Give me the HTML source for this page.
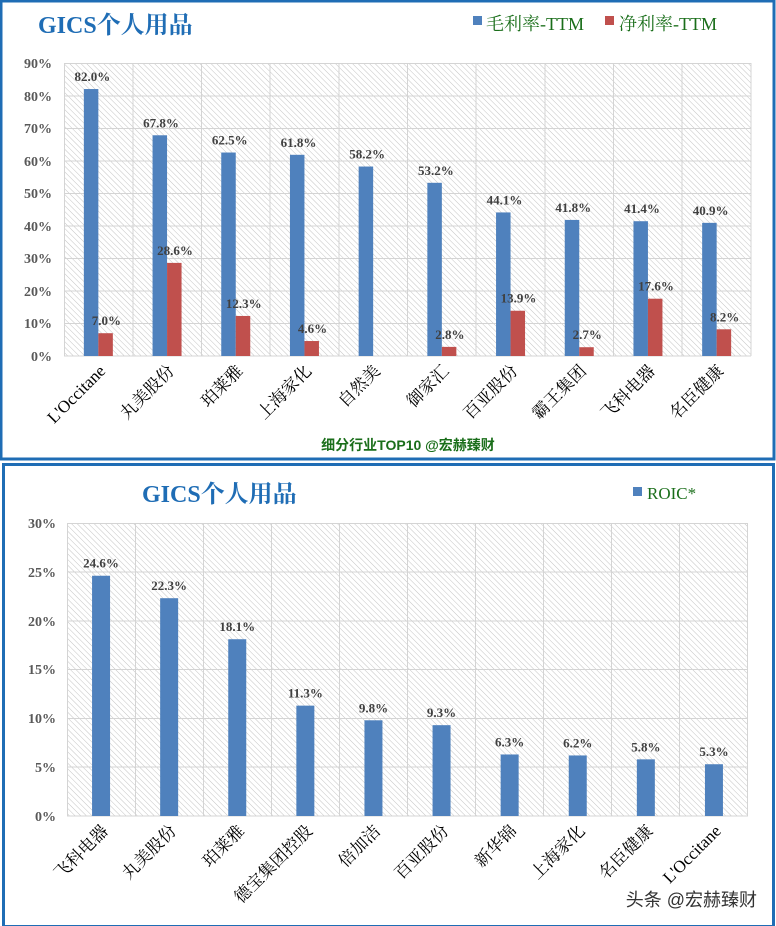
<!DOCTYPE html>
<html><head><meta charset="utf-8"><style>
body{margin:0;background:#fff;width:776px;height:926px;overflow:hidden}
svg{display:block}
text{font-family:"Liberation Serif","Noto Serif CJK SC",serif}
</style></head><body>
<svg width="776" height="926" viewBox="0 0 776 926" xmlns="http://www.w3.org/2000/svg">
<defs>
<pattern id="h" width="4" height="4" patternUnits="userSpaceOnUse" patternTransform="rotate(-45)">
<rect width="4" height="4" fill="#fff"/><line x1="0" y1="0" x2="0" y2="4" stroke="#c4c4c4" stroke-width="1"/>
</pattern>
</defs>
<rect x="1" y="1" width="773" height="458" fill="#fff" stroke="#1f6db5" stroke-width="3"/>
<text x="38" y="33" font-size="24" font-weight="bold" fill="#1f6db5">GICS个人用品</text>
<rect x="473" y="16" width="9" height="9" fill="#4f81bd"/>
<text x="486" y="30" font-size="18" fill="#1a6e1a">毛利率-TTM</text>
<rect x="605" y="16" width="9" height="9" fill="#c0504d"/>
<text x="619" y="30" font-size="18" fill="#1a6e1a">净利率-TTM</text>
<rect x="64" y="63" width="687" height="293" fill="url(#h)"/>
<g stroke="#d4d4d4" stroke-width="1">
<line x1="64" y1="63.5" x2="751" y2="63.5"/><line x1="64" y1="96" x2="751" y2="96"/><line x1="64" y1="128.5" x2="751" y2="128.5"/><line x1="64" y1="161" x2="751" y2="161"/><line x1="64" y1="193.5" x2="751" y2="193.5"/><line x1="64" y1="226" x2="751" y2="226"/><line x1="64" y1="258.5" x2="751" y2="258.5"/><line x1="64" y1="291" x2="751" y2="291"/><line x1="64" y1="323.5" x2="751" y2="323.5"/><line x1="64" y1="356" x2="751" y2="356"/>
<line x1="64.5" y1="63" x2="64.5" y2="356"/><line x1="133" y1="63" x2="133" y2="356"/><line x1="201.5" y1="63" x2="201.5" y2="356"/><line x1="270" y1="63" x2="270" y2="356"/><line x1="339" y1="63" x2="339" y2="356"/><line x1="407.5" y1="63" x2="407.5" y2="356"/><line x1="476" y1="63" x2="476" y2="356"/><line x1="545" y1="63" x2="545" y2="356"/><line x1="613.5" y1="63" x2="613.5" y2="356"/><line x1="682" y1="63" x2="682" y2="356"/><line x1="751" y1="63" x2="751" y2="356"/>
</g>
<g font-size="14" font-weight="bold" fill="#595959" text-anchor="end">
<text x="52" y="68">90%</text><text x="52" y="101">80%</text><text x="52" y="133">70%</text><text x="52" y="166">60%</text><text x="52" y="198">50%</text><text x="52" y="231">40%</text><text x="52" y="263">30%</text><text x="52" y="296">20%</text><text x="52" y="328">10%</text><text x="52" y="361">0%</text>
</g>
<g id="topg"></g>
<text x="408" y="450" font-size="14" font-weight="bold" fill="#1a6e1a" text-anchor="middle" style="font-family:'Liberation Sans','Noto Sans CJK SC',sans-serif">细分行业TOP10 @宏赫臻财</text>
<rect x="3.5" y="464.5" width="770" height="462" fill="#fff" stroke="#1f6db5" stroke-width="3"/>
<text x="142" y="502" font-size="24" font-weight="bold" fill="#1f6db5">GICS个人用品</text>
<rect x="633" y="487" width="9" height="9" fill="#4f81bd"/>
<text x="647" y="499" font-size="17" fill="#1a6e1a">ROIC*</text>
<rect x="67" y="523" width="681" height="293" fill="url(#h)"/>
<g stroke="#d4d4d4" stroke-width="1">
<line x1="67" y1="523.5" x2="748" y2="523.5"/><line x1="67" y1="572" x2="748" y2="572"/><line x1="67" y1="621" x2="748" y2="621"/><line x1="67" y1="669.5" x2="748" y2="669.5"/><line x1="67" y1="718.5" x2="748" y2="718.5"/><line x1="67" y1="767" x2="748" y2="767"/><line x1="67" y1="816" x2="748" y2="816"/>
<line x1="67.5" y1="523" x2="67.5" y2="816"/><line x1="135.5" y1="523" x2="135.5" y2="816"/><line x1="203.5" y1="523" x2="203.5" y2="816"/><line x1="271.5" y1="523" x2="271.5" y2="816"/><line x1="339.5" y1="523" x2="339.5" y2="816"/><line x1="407.5" y1="523" x2="407.5" y2="816"/><line x1="475.5" y1="523" x2="475.5" y2="816"/><line x1="543.5" y1="523" x2="543.5" y2="816"/><line x1="611.5" y1="523" x2="611.5" y2="816"/><line x1="679.5" y1="523" x2="679.5" y2="816"/><line x1="747.5" y1="523" x2="747.5" y2="816"/>
</g>
<g font-size="14" font-weight="bold" fill="#595959" text-anchor="end">
<text x="56" y="528">30%</text><text x="56" y="577">25%</text><text x="56" y="626">20%</text><text x="56" y="674">15%</text><text x="56" y="723">10%</text><text x="56" y="772">5%</text><text x="56" y="821">0%</text>
</g>
<g id="botg"></g>
<text x="757" y="906" font-size="18" fill="#333" text-anchor="end" style="font-family:'Liberation Sans','Noto Sans CJK SC',sans-serif">头条 @宏赫臻财</text>
</svg>
<script>
(function(){
var NS="http://www.w3.org/2000/svg";
function el(p,t,a,txt){var e=document.createElementNS(NS,t);for(var k in a)e.setAttribute(k,a[k]);if(txt!=null)e.textContent=txt;p.appendChild(e);return e;}
var tg=document.getElementById("topg");
var names=["L'Occitane","丸美股份","珀莱雅","上海家化","自然美","御家汇","百亚股份","霸王集团","飞科电器","名臣健康"];
var g=[82.0,67.8,62.5,61.8,58.2,53.2,44.1,41.8,41.4,40.9];
var n=[7.0,28.6,12.3,4.6,null,2.8,13.9,2.7,17.6,8.2];
var k=293/90;
for(var i=0;i<10;i++){
 var c=64+68.7*(i+0.5);
 var h=g[i]*k;
 el(tg,"rect",{x:c-14.5,y:356-h,width:14.5,height:h,fill:"#4f81bd"});
 el(tg,"text",{x:c-6,y:356-h-8,"font-size":13,"font-weight":"bold",fill:"#404040","text-anchor":"middle"},g[i].toFixed(1)+"%");
 if(n[i]!=null){var h2=n[i]*k;
 el(tg,"rect",{x:c,y:356-h2,width:14.5,height:h2,fill:"#c0504d"});
 el(tg,"text",{x:c+8,y:356-h2-8,"font-size":13,"font-weight":"bold",fill:"#404040","text-anchor":"middle"},n[i].toFixed(1)+"%");}
 el(tg,"text",{x:c+8,y:372,"font-size":17,fill:"#000","text-anchor":"end",transform:"rotate(-45 "+(c+8)+" 372)"},names[i]);
}
var bg=document.getElementById("botg");
var nb=["飞科电器","丸美股份","珀莱雅","德宝集团控股","倍加洁","百亚股份","新华锦","上海家化","名臣健康","L'Occitane"];
var r=[24.6,22.3,18.1,11.3,9.8,9.3,6.3,6.2,5.8,5.3];
var k2=293/30;
for(var j=0;j<10;j++){
 var c2=67+68.1*(j+0.5);var hh=r[j]*k2;
 el(bg,"rect",{x:c2-9,y:816-hh,width:18,height:hh,fill:"#4f81bd"});
 el(bg,"text",{x:c2,y:816-hh-8,"font-size":13,"font-weight":"bold",fill:"#404040","text-anchor":"middle"},r[j].toFixed(1)+"%");
 el(bg,"text",{x:c2+8,y:832,"font-size":17,fill:"#000","text-anchor":"end",transform:"rotate(-45 "+(c2+8)+" 832)"},nb[j]);
}
})();
</script>
</body></html>
